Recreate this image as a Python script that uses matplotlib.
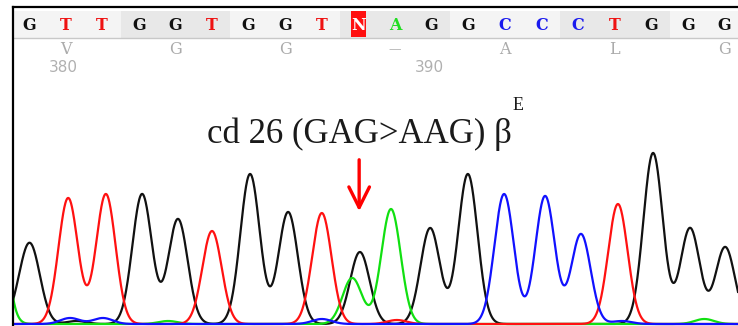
import numpy as np
import matplotlib.pyplot as plt
from matplotlib.patches import Rectangle

# base calls along the top band
bases = list("GTTGGTGGTNAGGCCCTGGG")
base_colors = {'G': '#111111', 'T': '#ee1111', 'C': '#1a1aee', 'A': '#22dd22', 'N': 'white'}

# amino acid translation row and position numbers
amino = ['V', 'G', 'G', '\u2014', 'A', 'L', 'G']
amino_idx = [1, 4, 7, 10, 13, 16, 19]
num_labels = ['380', '390']
num_idx = [1, 11]

# chromatogram peaks (position in base units, height in signal units)
g_pos = [-0.15, 0.07, 1.3, 3.09, 4.07, 6.04, 7.08, 9.04, 10.96, 11.99, 17.05, 18.06, 19.02]
g_hgt = [25, 62, 3, 130, 105, 150, 112, 72, 96, 150, 171, 96, 77]
a_pos = [-0.98, 3.8, 8.83, 9.89, 18.45]
a_hgt = [220, 3, 46, 115, 5]
t_pos = [1.07, 2.10, 5.0, 8.0, 10.05, 16.09]
t_hgt = [126, 130, 93, 111, 4, 120]
c_pos = [1.12, 2.02, 8.0, 12.98, 14.1, 15.08, 16.2]
c_hgt = [6, 6, 5, 130, 128, 90, 3]

mut_idx = 9
label = 'cd 26 (GAG>AAG) \u03b2'


def trace(x, pos, hgt, s=0.265):
    y = np.zeros_like(x)
    for p, h in zip(pos, hgt):
        y += h * np.exp(-(x - p) ** 2 / (2 * s ** 2))
    return y


fig = plt.figure(figsize=(7.38, 3.26), dpi=100)
ax = fig.add_axes([13 / 738, 0, 725 / 738, 319 / 326])
ax.set_xlim(-0.437, 19.37)
ax.set_ylim(-2, 317)

x = np.linspace(-1.5, 20.5, 3000)
for pos, hgt, col in [(g_pos, g_hgt, '#111111'), (a_pos, a_hgt, '#11e011'),
                      (t_pos, t_hgt, '#ff1111'), (c_pos, c_hgt, '#1111ff')]:
    ax.plot(x, trace(x, pos, hgt), color=col, lw=1.6, solid_joinstyle='round')

# header band with codon shading
band_lo, band_hi = 286, 313
edges = [-0.437] + [2.5 + 3 * k for k in range(6)] + [19.37]
for k in range(len(edges) - 1):
    shade = '#f4f4f4' if k % 2 == 0 else '#e8e8e8'
    ax.add_patch(Rectangle((edges[k], band_lo), edges[k + 1] - edges[k], band_hi - band_lo,
                           facecolor=shade, edgecolor='none', zorder=3))
ax.plot([-0.437, 19.37], [band_lo, band_lo], color='#c8c8c8', lw=1, zorder=4)
ax.add_patch(Rectangle((mut_idx - 0.2, band_lo + 1), 0.4, band_hi - band_lo - 1,
                       facecolor='#ff1010', edgecolor='none', zorder=4))

for i, b in enumerate(bases):
    ax.text(i, 299, b, color=base_colors[b], ha='center', va='center',
            family='DejaVu Serif', weight='bold', fontsize=11.5, zorder=5)
for i, a in zip(amino_idx, amino):
    ax.text(i, 274, a, color='#ababab', ha='center', va='center',
            family='DejaVu Serif', fontsize=9 if a == '\u2014' else 11.5, zorder=5)
for i, n in zip(num_idx, num_labels):
    ax.text(i - 0.05, 256, n, color='#b0b0b0', ha='center', va='center',
            family='DejaVu Sans', fontsize=11, zorder=5)

# mutation annotation
ax.text(4.86, 181, label, ha='left', va='baseline', family='Liberation Serif',
        fontsize=25, color='#1a1a1a')
ax.text(13.22, 214, 'E', ha='left', va='baseline', family='Liberation Serif',
        fontsize=13, color='#1a1a1a')
ax.annotate('', xy=(mut_idx + 0.02, 110), xytext=(mut_idx + 0.02, 167),
            arrowprops=dict(arrowstyle='->, head_length=0.4, head_width=0.2',
                            color='#ff0000', lw=2.4, mutation_scale=37))

for s in ['right', 'bottom']:
    ax.spines[s].set_visible(False)
for s in ['left', 'top']:
    ax.spines[s].set_linewidth(1.6)
    ax.spines[s].set_zorder(6)
ax.set_xticks([])
ax.set_yticks([])

fig.savefig('out.png', dpi=100)
